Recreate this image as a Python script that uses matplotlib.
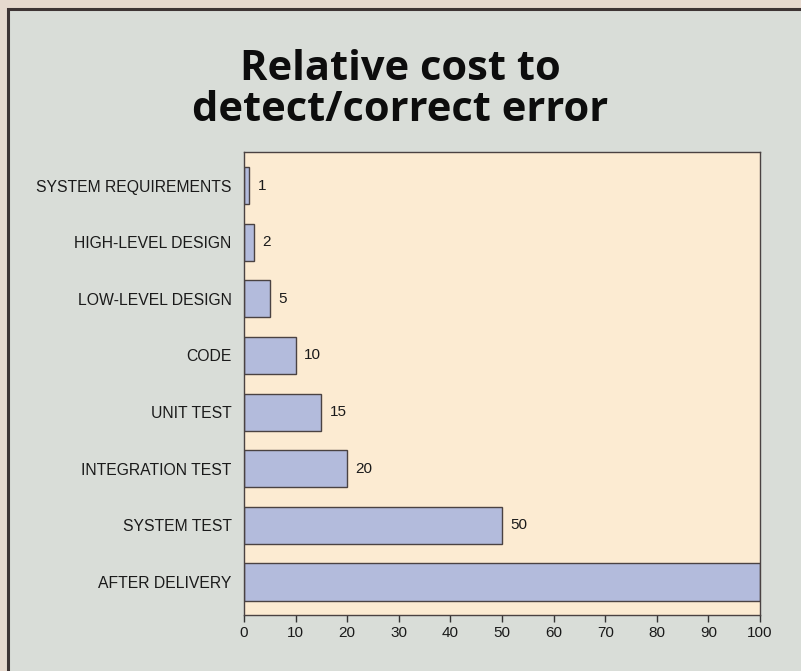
import matplotlib.pyplot as plt
from matplotlib.patches import Rectangle

# Relative cost of fixing an error, by phase where it is found
phases = ['SYSTEM REQUIREMENTS', 'HIGH-LEVEL DESIGN', 'LOW-LEVEL DESIGN', 'CODE',
          'UNIT TEST', 'INTEGRATION TEST', 'SYSTEM TEST', 'AFTER DELIVERY']
cost = [1, 2, 5, 10, 15, 20, 50, 100]
xticks = [0, 10, 20, 30, 40, 50, 60, 70, 80, 90, 100]

plt.rcParams['font.family'] = ['Liberation Sans', 'DejaVu Sans']

fig = plt.figure(figsize=(8.01, 6.71), dpi=100)
fig.patch.set_facecolor('#e6d9ce')

# grey panel with a dark frame, running off the right and bottom edges
panel = Rectangle((8/801, -0.05), 1.0, 1 - 9/671 + 0.05, transform=fig.transFigure,
                  facecolor='#d9ddd8', edgecolor='#3e3434', lw=2.2, zorder=-10)
fig.patches.append(panel)

fig.text(0.5, 0.866, 'Relative cost to\ndetect/correct error', ha='center', va='center',
         fontsize=30, fontweight='bold', family=['Open Sans', 'DejaVu Sans'],
         linespacing=0.98, color='#0d0d0d')

ax = fig.add_axes([244/801, 1 - 615/671, (760 - 244)/801, (615 - 152.5)/671])
ax.set_facecolor('#fcebd2')

pos = list(range(len(phases)))
ax.barh(pos, cost, height=0.654, color='#b3bbdc', edgecolor='#4a4242', lw=1.0)
# value labels; the one past the right edge gets clipped
for p, v in zip(pos, cost):
    ax.text(v + 1.6, p, str(v), va='center', ha='left', fontsize=11,
            color='#1a1a1a', clip_on=True)

ax.set_xlim(0, 100)
ax.set_ylim(7.583, -0.583)
ax.set_xticks(xticks)
ax.set_yticks(pos)
ax.set_yticklabels(phases)
ax.tick_params(axis='y', length=0, pad=9, labelsize=11.3, labelcolor='#1a1a1a')
ax.tick_params(axis='x', length=5, width=1, color='#333333', pad=3,
               labelsize=11, labelcolor='#1a1a1a')
for s in ax.spines.values():
    s.set_color('#4a4242')
    s.set_linewidth(1.0)

fig.savefig('out.png', dpi=100, facecolor=fig.get_facecolor())
